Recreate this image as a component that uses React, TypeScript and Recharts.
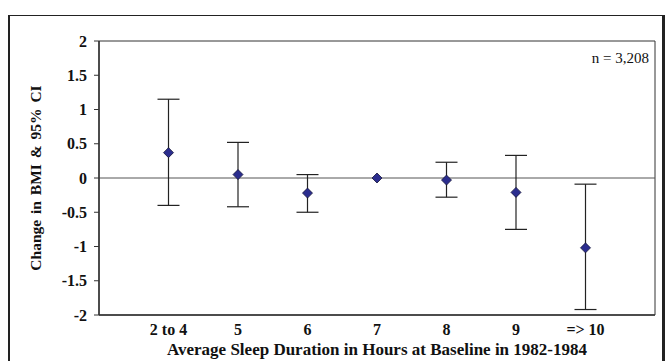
import { ScatterChart, Scatter, XAxis, YAxis, ErrorBar, ReferenceLine, ReferenceArea, Label } from 'recharts';

const categories = ['2 to 4', '5', '6', '7', '8', '9', '=> 10'];
const estimates = [0.37, 0.05, -0.22, 0, -0.03, -0.21, -1.02];
const upperCI = [1.15, 0.52, 0.05, 0, 0.23, 0.33, -0.09];
const lowerCI = [-0.40, -0.42, -0.50, 0, -0.28, -0.75, -1.92];
const yTicks = [-2, -1.5, -1, -0.5, 0, 0.5, 1, 1.5, 2];

const font = '"Liberation Serif", "Times New Roman", serif';

const data = categories.map((name, i) => ({
  pos: i + 1,
  name,
  est: estimates[i],
  err: upperCI[i] === lowerCI[i] ? null : [estimates[i] - lowerCI[i], upperCI[i] - estimates[i]],
}));

const Diamond = (props: any) => {
  const { cx, cy } = props;
  const r = 5;
  return (
    <polygon
      points={`${cx},${cy - r} ${cx + r},${cy} ${cx},${cy + r} ${cx - r},${cy}`}
      fill="#2b2d8e"
      stroke="#15153a"
      strokeWidth={0.8}
    />
  );
};

export default function App() {
  return (
    <div style={{ position: 'absolute', left: 0, top: 0, width: 669, height: 361, overflow: 'hidden', background: '#fff' }}>
      <div style={{ position: 'absolute', left: 8, top: 15, width: 652, height: 400, borderLeft: '2px solid #222', borderTop: '1.5px solid #222', borderRight: '3px solid #222' }} />
      <ScatterChart width={669} height={361} margin={{ top: 41, right: 14, bottom: 16, left: 19 }} style={{ position: 'absolute', left: 0, top: 0 }}>
        <ReferenceArea x1={0} x2={8} y1={-2} y2={2} fill="none" stroke="#333" strokeWidth={1} />
        <XAxis
          type="number"
          dataKey="pos"
          domain={[0, 8]}
          ticks={[1, 2, 3, 4, 5, 6, 7]}
          tickFormatter={(v: number) => categories[v - 1] ?? ''}
          tickLine={false}
          axisLine={{ stroke: '#333', strokeWidth: 1.5 }}
          height={30}
          tickSize={0}
          tickMargin={9}
          tick={{ fill: '#111', fontFamily: font, fontWeight: 'bold', fontSize: 16 }}
        >
          <Label value="Average Sleep Duration in Hours at Baseline in 1982-1984" position="bottom" offset={-2} style={{ fill: '#111', fontFamily: font, fontWeight: 'bold', fontSize: 17 }} />
        </XAxis>
        <YAxis
          type="number"
          dataKey="est"
          domain={[-2, 2]}
          ticks={yTicks}
          width={80}
          tickSize={5}
          tickMargin={7}
          tickLine={{ stroke: '#333' }}
          axisLine={{ stroke: '#333', strokeWidth: 1.5 }}
          tick={{ fill: '#111', fontFamily: font, fontWeight: 'bold', fontSize: 16 }}
        >
          <Label value="Change in BMI & 95% CI" angle={-90} position="insideLeft" offset={16} style={{ textAnchor: 'middle', fill: '#111', fontFamily: font, fontWeight: 'bold', fontSize: 15.5, wordSpacing: 2 }} />
        </YAxis>
        <ReferenceLine y={0} stroke="#555" strokeWidth={1} />
        <Scatter data={data} shape={Diamond} isAnimationActive={false}>
          <ErrorBar dataKey="err" direction="y" width={11} stroke="#222" strokeWidth={1.2} isAnimationActive={false} />
        </Scatter>
        <text x={649} y={63} textAnchor="end" fontFamily={font} fontSize={15} fill="#111">n = 3,208</text>
      </ScatterChart>
    </div>
  );
}
